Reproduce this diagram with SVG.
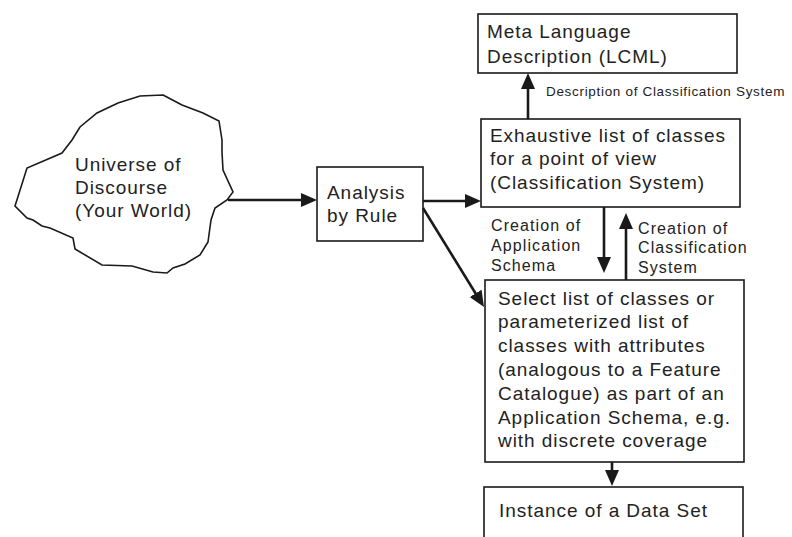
<svg xmlns="http://www.w3.org/2000/svg" width="792" height="537" viewBox="0 0 792 537">
<defs>
<style>
.box{fill:#fff;stroke:#1a1a1a;stroke-width:1.6}
.t{font-family:"Liberation Sans",Arial,sans-serif;font-size:19px;letter-spacing:0.95px;fill:#222}
.s{font-family:"Liberation Sans",Arial,sans-serif;font-size:16px;letter-spacing:1.1px;fill:#222}
.xs{font-family:"Liberation Sans",Arial,sans-serif;font-size:13.5px;letter-spacing:0.68px;fill:#222}
.c{fill:none;stroke:#1a1a1a;stroke-width:2.6;marker-end:url(#ah)}
</style>
<marker id="ah" markerUnits="userSpaceOnUse" markerWidth="16" markerHeight="14" refX="8" refY="7" orient="auto">
<path d="M0,0 L16,7 L0,14 Z" fill="#1a1a1a"/>
</marker>
</defs>
<rect width="792" height="537" fill="#fff"/>
<g id="universe">
<path class="box" d="M163,95 L182,105 L203,113 L219,121 L222,140 L222,152 L223,170 L233,192 L227,200 L215,208 L211,220 L208,242 L200,255 L185,264 L173,268 L167,273 L153,272 L132,266 L102,265 L75,249 L73,238 L50,228 L42,226 L33,220 L27,218 L15,206 L27,168 L62,153 L72,140 L80,127 L97,113 L118,103 L140,96 Z"/>
<text class="t" x="75" y="171">Universe of</text>
<text class="t" x="75" y="194">Discourse</text>
<text class="t" x="75" y="217">(Your World)</text>
</g>
<g id="analysis">
<rect class="box" x="317" y="167" width="106" height="74"/>
<text class="t" x="327" y="199">Analysis</text>
<text class="t" x="327" y="222">by Rule</text>
</g>
<g id="meta">
<rect class="box" x="478" y="14" width="259" height="59"/>
<text class="t" x="487" y="38">Meta Language</text>
<text class="t" x="487" y="63">Description (LCML)</text>
</g>
<g id="exhaustive">
<rect class="box" x="481" y="119" width="259" height="88"/>
<text class="t" x="490" y="142">Exhaustive list of classes</text>
<text class="t" x="490" y="165">for a point of view</text>
<text class="t" x="490" y="189">(Classification System)</text>
</g>
<g id="select">
<rect class="box" x="485" y="280" width="259" height="182"/>
<text class="t" x="498" y="305">Select list of classes or</text>
<text class="t" x="498" y="328">parameterized list of</text>
<text class="t" x="498" y="352">classes with attributes</text>
<text class="t" x="498" y="376">(analogous to a Feature</text>
<text class="t" x="498" y="400">Catalogue) as part of an</text>
<text class="t" x="498" y="424">Application Schema, e.g.</text>
<text class="t" x="498" y="447">with discrete coverage</text>
</g>
<g id="instance">
<rect class="box" x="484" y="487" width="259" height="80"/>
<text class="t" x="499" y="517">Instance of a Data Set</text>
</g>
<g id="connectors">
<line class="c" x1="228" y1="200" x2="309" y2="200"/>
<line class="c" x1="423" y1="201" x2="473" y2="201"/>
<line class="c" x1="423" y1="208" x2="479.8" y2="300.2"/>
<line class="c" x1="528" y1="119" x2="528" y2="81"/>
<line class="c" x1="604" y1="207" x2="604" y2="265"/>
<line class="c" x1="626" y1="280" x2="626" y2="221"/>
<line class="c" x1="612" y1="462" x2="612" y2="478"/>
<text class="xs" x="546" y="96">Description of Classification System</text>
<text class="s" x="491" y="231">Creation of</text>
<text class="s" x="491" y="251">Application</text>
<text class="s" x="491" y="271">Schema</text>
<text class="s" x="638" y="234">Creation of</text>
<text class="s" x="638" y="253">Classification</text>
<text class="s" x="638" y="273">System</text>
</g>
</svg>
